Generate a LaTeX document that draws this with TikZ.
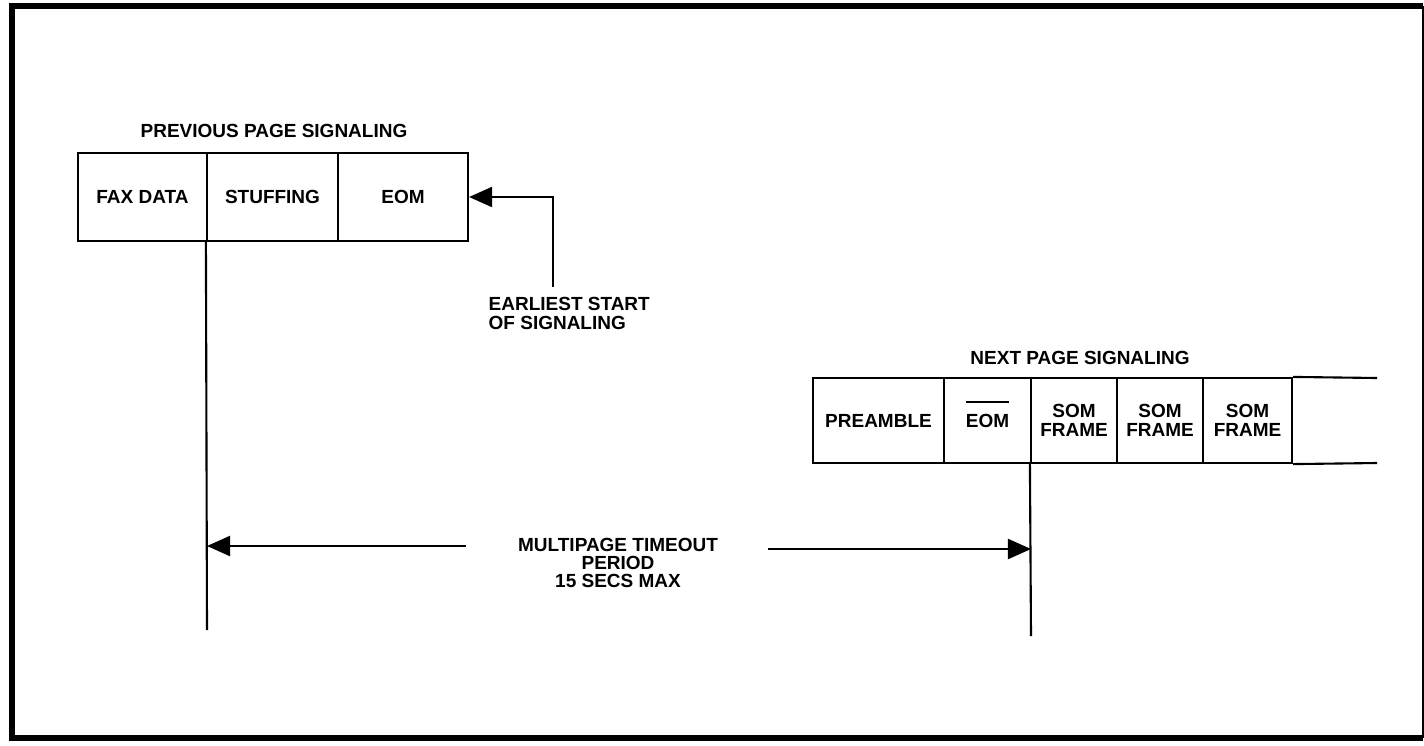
\documentclass[tikz,border=0pt]{standalone}
\usepackage{fontspec}
\setmainfont{Liberation Sans}
\usetikzlibrary{arrows.meta}
\newcommand\ovbar[1]{\leavevmode\setbox0\hbox{#1}\rlap{\smash{\raise\dimexpr\ht0+3pt\relax\hbox{\vrule width\wd0 height 0.6pt depth 0pt}}}\box0}
\begin{document}
\begin{tikzpicture}[x=0.01cm,y=-0.01cm,
  every node/.style={font=\fontsize{5.4pt}{5.2pt}\selectfont\bfseries, inner sep=0pt},
  pcell/.style={draw, line width=0.6pt, minimum height=0.88cm},
  ncell/.style={draw, line width=0.6pt, minimum height=0.85cm, align=center},
  conn/.style={line width=0.6pt},
  tip/.style={-{Triangle[length=0.23cm,width=0.2cm]}}]
\useasboundingbox (0,0) rectangle (1424,745);
% frame
\draw[line width=1.5pt] (1423,6) -- (12,6) -- (12,738) -- (1423,738);
\draw[line width=0.6pt] (1423,6) -- (1423,738);
% previous page
\node (prevtitle) at (274,131) {PREVIOUS PAGE SIGNALING};
\node[pcell, minimum width=1.29cm] (fax) at (142.5,197) {FAX DATA};
\node[pcell, minimum width=1.31cm] (stuff) at (272.5,197) {STUFFING};
\node[pcell, minimum width=1.30cm] (eom) at (403,197) {EOM};
\coordinate (lbot) at (207,630);
\draw[conn] (stuff.south west) -- (lbot);
% earliest start
\coordinate (es) at (553,287);
\draw[conn,tip] (es) |- (eom.east);
\node[anchor=north west, align=left] (earliest) at (488,297) {EARLIEST START\\OF SIGNALING};
% next page
\node (nexttitle) at (1080,358) {NEXT PAGE SIGNALING};
\node[ncell, minimum width=1.31cm] (pre) at (878.5,420.5) {PREAMBLE};
\node[ncell, minimum width=0.87cm] (neom) at (987.5,420.5) {\ovbar{EOM}};
\node[ncell, minimum width=0.86cm] (som1) at (1074,420.5) {SOM\\FRAME};
\node[ncell, minimum width=0.86cm] (som2) at (1160,420.5) {SOM\\FRAME};
\node[ncell, minimum width=0.89cm] (som3) at (1247.5,420.5) {SOM\\FRAME};
\coordinate (endtop) at (1377,378);
\coordinate (endbot) at (1377,463);
\draw[conn] (som3.north east) -- (endtop);
\draw[conn] (som3.south east) -- (endbot);
\coordinate (rbot) at (1031,636);
\draw[conn] (som1.south west) -- (rbot);
% timeout
\node[align=center] (timeout) at (618,563) {MULTIPAGE TIMEOUT\\PERIOD\\15 SECS MAX};
\coordinate (lstart) at (466,546);
\coordinate (la) at (207,546);
\draw[conn,tip] (lstart) -- (la);
\coordinate (rstart) at (768,549);
\coordinate (ra) at (1031,549);
\draw[conn,tip] (rstart) -- (ra);
\end{tikzpicture}
\end{document}
